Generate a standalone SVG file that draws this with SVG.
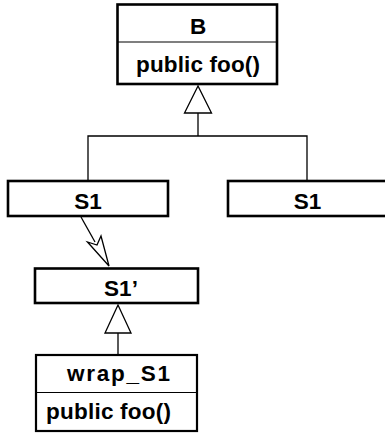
<svg xmlns="http://www.w3.org/2000/svg" width="385" height="439" viewBox="0 0 385 439">
<style>
.box{fill:#fff;stroke:#000;stroke-width:2.6}
.div{stroke:#000;stroke-width:1.2}
.t{font-family:"Liberation Sans",Arial,Helvetica,sans-serif;font-weight:bold;font-size:22.5px;fill:#000}
.c{text-anchor:middle}
.ln{fill:none;stroke:#000;stroke-width:1.3}
.tri{fill:#fff;stroke:#000;stroke-width:1.3}
</style>
<rect width="385" height="439" fill="#fff"/>
<g id="connectors">
<polyline class="ln" points="198,113 198,136"/>
<polyline class="ln" points="88,181 88,136 307,136 307,181"/>
<polygon class="tri" points="198,86 184.5,113 211.5,113"/>
<line class="ln" x1="118" y1="333" x2="118" y2="355"/>
<polygon class="tri" points="118,305 105,333 131,333"/>
<line class="ln" x1="81" y1="217" x2="95" y2="242"/>
<polygon class="tri" points="109,266 101,236 97,245 87.5,242"/>
</g>
<g id="B">
<rect class="box" x="117.5" y="4.5" width="159.5" height="79.5"/>
<line class="div" x1="117.5" y1="42" x2="277" y2="42"/>
<text class="t c" x="198" y="33.5">B</text>
<text class="t c" x="198" y="72" textLength="124" lengthAdjust="spacing">public foo()</text>
</g>
<g id="S1_left">
<rect class="box" x="8" y="181" width="160" height="35"/>
<text class="t c" x="88" y="209">S1</text>
</g>
<g id="S1_right">
<rect class="box" x="228" y="181" width="165" height="35"/>
<text class="t c" x="307.5" y="209">S1</text>
</g>
<g id="S1prime">
<rect class="box" x="35" y="268.5" width="163" height="34.5"/>
<text class="t c" x="121" y="296">S1’</text>
</g>
<g id="wrap_S1">
<rect class="box" x="36" y="355" width="161" height="76" style="stroke-width:2.2"/>
<line class="div" x1="36" y1="392.5" x2="197" y2="392.5"/>
<text class="t c" x="118.5" y="381" textLength="103" lengthAdjust="spacing">wrap_S1</text>
<text class="t" x="46" y="418.5" textLength="125" lengthAdjust="spacing">public foo()</text>
</g>
</svg>
